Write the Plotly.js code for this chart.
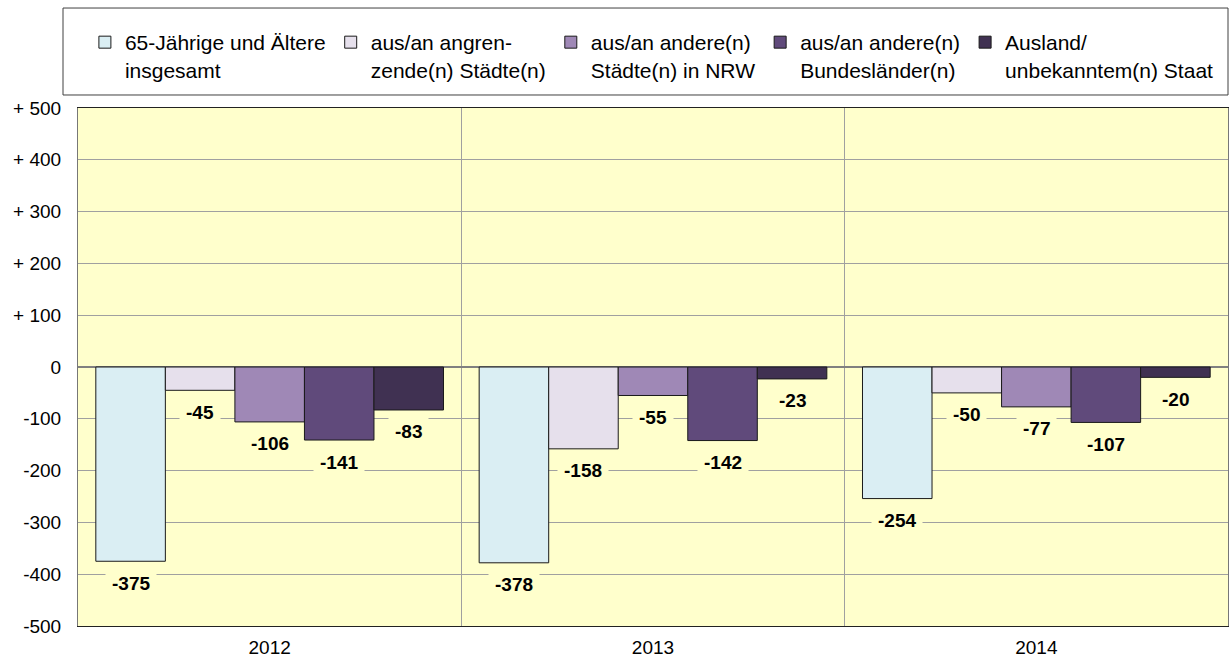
<!DOCTYPE html>
<html>
<head>
<meta charset="utf-8">
<script src="https://cdn.plot.ly/plotly-3.0.1.min.js"></script>
<style>html,body{margin:0;padding:0;background:#fff;}#chart{width:1229px;height:660px;}</style>
</head>
<body>
<div id="chart"></div>
<script>
// ---- data ----
const years = ["2012", "2013", "2014"];
const seriesNames = [
  "65-Jährige und Ältere<br>insgesamt",
  "aus/an angren-<br>zende(n) Städte(n)",
  "aus/an andere(n)<br>Städte(n) in NRW",
  "aus/an andere(n)<br>Bundesländer(n)",
  "Ausland/<br>unbekanntem(n) Staat"
];
const total65      = [-375, -378, -254];
const neighbour    = [-45, -158, -50];
const otherNRW     = [-106, -55, -77];
const otherStates  = [-141, -142, -107];
const abroad       = [-83, -23, -20];
const yTickVals  = [500, 400, 300, 200, 100, 0, -100, -200, -300, -400, -500];
const yTickText  = ["+ 500", "+ 400", "+ 300", "+ 200", "+ 100", "0", "-100", "-200", "-300", "-400", "-500"];

// ---- styling ----
const colors = ["#DAEEF3", "#E6E0EC", "#9F88B6", "#604A7B", "#403152"];
const allSeries = [total65, neighbour, otherNRW, otherStates, abroad];
const bargap = 0.093;
const xIdx = years.map((_, i) => i);
const font = "Arial, 'Liberation Sans', sans-serif";

const traces = allSeries.map((vals, j) => ({
  type: "bar",
  name: seriesNames[j],
  x: xIdx,
  y: vals,
  marker: { color: colors[j], line: { color: "#1a1a1a", width: 1 } },
  hoverinfo: "y"
}));

const barW = (1 - bargap) / allSeries.length;
const annotations = [];
allSeries.forEach((vals, j) => {
  vals.forEach((v, i) => {
    annotations.push({
      x: i + (j - (allSeries.length - 1) / 2) * barW,
      y: v,
      xref: "x", yref: "y",
      text: "<b>" + v + "</b>",
      showarrow: false,
      yshift: -22,
      bgcolor: "#FFFFCC",
      borderpad: 6,
      font: { family: font, size: 19, color: "#000" }
    });
  });
});

const layout = {
  width: 1229, height: 660,
  margin: { l: 78, r: 1, t: 108, b: 34 },
  paper_bgcolor: "#ffffff",
  plot_bgcolor: "#FFFFCC",
  font: { family: font, size: 19, color: "#000" },
  barmode: "group",
  bargap: bargap,
  bargroupgap: 0,
  showlegend: true,
  legend: {
    orientation: "h",
    x: 0.006, xanchor: "left",
    y: 1.166, yanchor: "top",
    bgcolor: "rgba(0,0,0,0)",
    font: { family: font, size: 21, color: "#000" },
    valign: "top",
    traceorder: "normal"
  },
  xaxis: {
    range: [-0.5, 2.5],
    tickmode: "array",
    tickvals: xIdx,
    ticktext: years,
    showgrid: false,
    zeroline: false,
    showline: true, linecolor: "#222", linewidth: 1, mirror: true,
    ticks: "",
    ticklabelstandoff: 4,
    minor: { tickmode: "array", tickvals: [0.5, 1.5], showgrid: true, gridcolor: "#A0A0A0", gridwidth: 1, ticks: "" },
    fixedrange: true
  },
  yaxis: {
    range: [-500, 500],
    tickmode: "array",
    tickvals: yTickVals,
    ticktext: yTickText,
    showgrid: true, gridcolor: "#A0A0A0", gridwidth: 1,
    zeroline: true, zerolinecolor: "#808080", zerolinewidth: 2,
    showline: true, linecolor: "#777", linewidth: 1, mirror: true,
    ticks: "",
    ticklabelstandoff: 12,
    fixedrange: true
  },
  shapes: [{
    type: "rect", xref: "paper", yref: "paper",
    x0: -0.01304, x1: 1.0, y0: 1.0251, y1: 1.193,
    line: { color: "#404040", width: 1 }, fillcolor: "rgba(0,0,0,0)"
  }],
  annotations: annotations
};

Plotly.newPlot("chart", traces, layout, { displayModeBar: false, staticPlot: true });
</script>
</body>
</html>
